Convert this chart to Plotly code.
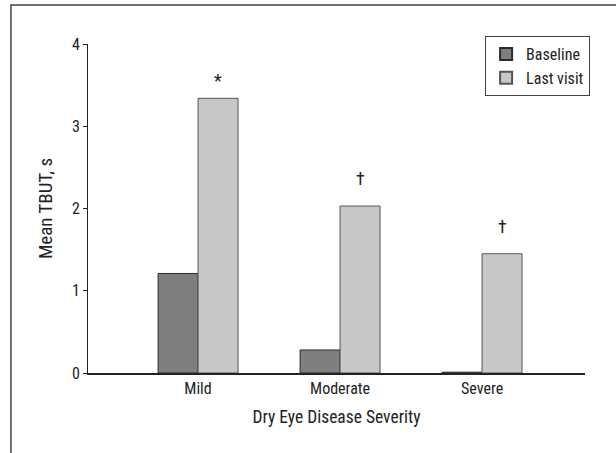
import plotly.graph_objects as go

categories = ["Mild", "Moderate", "Severe"]
baseline = [1.21, 0.28, 0.01]
last_visit = [3.34, 2.03, 1.45]
markers = ["*", "†", "†"]
y_ticks = [0, 1, 2, 3, 4]

FONT = "Liberation Sans Narrow, Arial Narrow, Roboto Condensed, sans-serif"

fig = go.Figure()
fig.add_trace(go.Bar(x=categories, y=baseline, name="Baseline",
                     marker=dict(color="#7f7f7f", line=dict(color="#2a2a2a", width=1))))
fig.add_trace(go.Bar(x=categories, y=last_visit, name="Last visit",
                     marker=dict(color="#c8c8c8", line=dict(color="#555555", width=1))))

yshifts = [5, 15, 15]
for i, (v, m, ys) in enumerate(zip(last_visit, markers, yshifts)):
    fig.add_annotation(x=i, y=v, text=m, showarrow=False, xshift=20, yshift=ys,
                       font=dict(size=18, color="#222", family=FONT), xanchor="center", yanchor="bottom")

fig.add_shape(type="rect", xref="paper", yref="paper", x0=-0.155, x1=1.3, y0=-0.5, y1=1.1185,
              line=dict(color="#444", width=1.5), layer="below")

fig.update_layout(
    width=616, height=453,
    margin=dict(l=88, r=31, t=44, b=80),
    paper_bgcolor="white", plot_bgcolor="white",
    barmode="group", bargap=0.437, bargroupgap=0,
    font=dict(family=FONT, size=16, color="#222"),
    showlegend=True,
    legend=dict(x=0.799, y=1.024, xanchor="left", yanchor="top",
                bordercolor="#444", borderwidth=1, bgcolor="white",
                font=dict(size=16), itemsizing="constant", tracegroupgap=2),
    xaxis=dict(range=[-0.775, 2.725], showline=True, linecolor="#222", linewidth=1.5,
               ticks="", showgrid=False, zeroline=False,
               title=dict(text="Dry Eye Disease Severity", standoff=14, font=dict(size=17.5))),
    yaxis=dict(range=[0, 4], tickvals=y_ticks, showline=True, linecolor="#222", linewidth=1,
               ticks="outside", ticklen=4, tickcolor="#222", showgrid=False, zeroline=False,
               title=dict(text="Mean TBUT, s", standoff=14, font=dict(size=19))),
)

fig.write_html("out.html", config={"displayModeBar": False},
               post_script="document.body.style.margin='0px';")
